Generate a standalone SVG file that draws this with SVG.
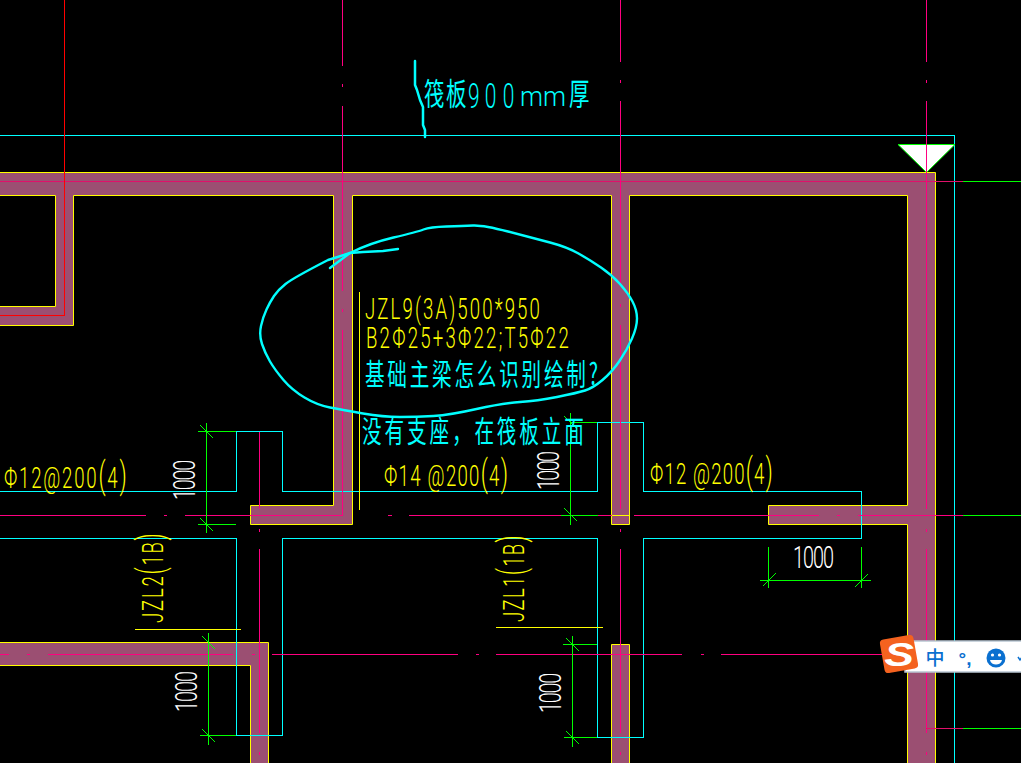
<svg xmlns="http://www.w3.org/2000/svg" width="1021" height="763" viewBox="0 0 1021 763">
<style>
.wall{fill:#9b4f72;stroke:#ffff00;stroke-width:1}
.l{fill:none;stroke-width:1;shape-rendering:crispEdges}
.cy{stroke:#00ffff}.mg{stroke:#ff0080}.rd{stroke:#ff0000}.gr{stroke:#00ff00}.yl{stroke:#ffff00}.cr{stroke:#e0106a}
.tk{fill:none;stroke:#00ff00;stroke-width:1}
.pen{fill:none;stroke:#00ffff;stroke-linecap:round;stroke-linejoin:round}
text{font-family:"Roboto","Liberation Sans",sans-serif;font-weight:300}
.ty{fill:#ffff00;font-size:30px}.tw{fill:#ffffff;font-size:32px}
.tc{fill:#00ffff;font-family:"Noto Sans CJK SC","Noto Sans",sans-serif;font-weight:400}
.tc2{fill:#00ffff}
.p{font-size:36px}
</style>
<rect width="1021" height="763" fill="#000000"/>
<g id="walls">
<path class="wall" d="M-2 172.5H935.5V765H907.5V524.5H768.5V505.5H907.5V195.5H629.5V524.5H611.5V195.5H352.5V524.5H250.5V505.5H333.5V195.5H73.5V325.5H-2V306.5H55.5V195.5H-2Z"/>
<path class="wall" d="M-2 642.5H268.5V765H250.5V665.5H-2Z"/>
<path class="wall" d="M611.5 644.5H629.5V765H611.5Z"/>
<path class="l yl" d="M612 515.5H629"/>
</g>
<g id="beam-outlines">
<path class="l cy" d="M0 135.5H954.5V763"/>
<path class="l cy" d="M0 491.5H236.5V431.5H282.5V491.5H597.5V422.5H643.5V491.5H861.5V538.5H643.5V737.5H597.5V538.5H282.5V735.5H236.5V538.5H0"/>
</g>
<g id="axes">
<path class="l cr" d="M0 181.5H963"/><path class="l gr" d="M963 181.5H1021"/>
<path class="l rd" d="M64.5 0V315.5H0"/>
<path class="l mg" d="M342.5 0V66M342.5 84V87M342.5 106V291M342.5 309V312M342.5 330V515.5"/>
<path class="l mg" d="M620.5 0V62M620.5 80V83M620.5 101V285M620.5 304V307M620.5 325V509M620.5 529V532M620.5 549V733M620.5 752V755"/>
<path class="l mg" d="M926.5 0V62M926.5 80V83M926.5 101V509M926.5 529V532M926.5 549V733M926.5 752V755"/>
<path class="l mg" d="M259.5 432V509M259.5 529V532M259.5 549V733M259.5 752V755"/>
<path class="l mg" d="M0 515.5H146M164 515.5H167M185 515.5H343M388 515.5H392M409 515.5H612M634 515.5H819M837 515.5H840M858 515.5H963"/>
<path class="l gr" d="M963 515.5H1021"/>
<path class="l mg" d="M0 654.5H9M27 654.5H30M48 654.5H233M252 654.5H255M272 654.5H458M476 654.5H479M496 654.5H682M701 654.5H704M721 654.5H925"/>
<path class="l cr" d="M926 728.5H963"/><path class="l gr" d="M963 728.5H1021"/>
</g>
<g id="leaders">
<path class="l yl" d="M359.5 292V510M135 629.5H241M496 627.5H603"/>
</g>
<g id="dimensions">
<path class="l gr" d="M206.5 423V533M198 431.5H236M198 524.5H236"/>
<path class="tk" d="M200 425L213 438M200 518L213 531"/>
<path class="l gr" d="M208.5 633V745M200 735.5H236"/>
<path class="tk" d="M202 636L215 649M202 729L215 742"/>
<path class="l gr" d="M570.5 413V525M561 515.5H598M570 422.5H597"/>
<path class="tk" d="M564 416L577 429M564 508L577 521"/>
<path class="l gr" d="M572.5 636V747M563 644.5H597M564 737.5H597"/>
<path class="tk" d="M566 638L579 651M566 731L579 744"/>
<path class="l gr" d="M760 580.5H871M768.5 547V588M861.5 547V588"/>
<path class="tk" d="M763 586L776 573M855 587L868 574"/>
</g>
<g id="level-mark">
<path d="M898 144.5H955L926.5 172.5Z" fill="#ffffff" stroke="#00ff00" stroke-width="1"/>
<path class="l mg" d="M926.5 135V173"/>
</g>
<g id="cad-text">
<text class="ty" transform="translate(365,319) scale(.62,1)" textLength="282" lengthAdjust="spacing">JZL9(3A)500*950</text>
<text class="ty" transform="translate(366,348) scale(.62,1)" textLength="327" lengthAdjust="spacing">B2Φ25+3Φ22;T5Φ22</text>
<text class="ty" transform="translate(4,488) scale(.62,1)" textLength="198" lengthAdjust="spacing">Φ12@200<tspan class="p">(</tspan>4<tspan class="p">)</tspan></text>
<text class="ty" transform="translate(384,486) scale(.62,1)" textLength="200" lengthAdjust="spacing">Φ14 @200<tspan class="p">(</tspan>4<tspan class="p">)</tspan></text>
<text class="ty" transform="translate(650,484) scale(.62,1)" textLength="198" lengthAdjust="spacing">Φ12 @200<tspan class="p">(</tspan>4<tspan class="p">)</tspan></text>
<text class="ty" transform="translate(163,623) rotate(-90) scale(.62,1)" textLength="145" lengthAdjust="spacing">JZL2<tspan class="p">(</tspan>1B<tspan class="p">)</tspan></text>
<text class="ty" transform="translate(524,622) rotate(-90) scale(.62,1)" textLength="140" lengthAdjust="spacing">JZL1<tspan class="p">(</tspan>1B<tspan class="p">)</tspan></text>
<text class="tw" transform="translate(195,500) rotate(-90) scale(.62,1)" textLength="65" lengthAdjust="spacing">1000</text>
<text class="tw" transform="translate(197,712) rotate(-90) scale(.62,1)" textLength="66" lengthAdjust="spacing">1000</text>
<text class="tw" transform="translate(559,490) rotate(-90) scale(.62,1)" textLength="63" lengthAdjust="spacing">1000</text>
<text class="tw" transform="translate(561,713) rotate(-90) scale(.62,1)" textLength="65" lengthAdjust="spacing">1000</text>
<text class="tw" transform="translate(793,568) scale(.62,1)" textLength="66" lengthAdjust="spacing">1000</text>
</g>
<g id="annotations">
<text class="tc" transform="translate(365,385) scale(.85,1.3)" font-size="23" textLength="274" lengthAdjust="spacing">基础主梁怎么识别绘制?</text>
<text class="tc" transform="translate(362,442) scale(.85,1.3)" font-size="23" textLength="261" lengthAdjust="spacing">没有支座，在筏板立面</text>
<text class="tc" transform="translate(424,105) scale(.85,1.3)" font-size="24" textLength="50" lengthAdjust="spacing">筏板</text>
<text class="tc2" transform="translate(468,108) scale(.6,1)" font-size="35" x="0 28 58">900</text>
<text class="tc2" x="520" y="106" font-size="27" textLength="46" lengthAdjust="spacingAndGlyphs">mm</text>
<text class="tc" transform="translate(569,105) scale(.85,1.3)" font-size="24">厚</text>
<path class="pen" stroke-width="2.5" d="M415 61V85L417 90L420 100L423 107V125L425 130V137"/>
<path class="pen" stroke-width="2.4" d="M398 249L383 251L363 252L350 253L330 268"/>
<path class="pen" stroke-width="2.4" d="M350 253L328 260Q293 278 285.5 284Q278 290 274 296Q270 302 266.5 309.5Q263 317 261 326Q259 335 262 344Q265 353 270 361.5Q275 370 283.5 380Q292 390 304.5 397.5Q317 405 330 407.5Q343 410 363 413.5Q383 417 400 417Q417 417 433.5 416Q450 415 476.5 409Q503 403 520 402Q537 401 557 397Q577 393 585 390.5Q593 388 602.5 380Q612 372 619.5 361Q627 350 632 338.5Q637 327 637 318.5Q637 310 632.5 301.5Q628 293 620 284Q612 275 601 267.5Q590 260 578.5 253.5Q567 247 550 242.5Q533 238 508 231.5Q483 225 473 225.5Q463 226 446.5 226.5Q430 227 423.5 229.5Q417 232 393.5 237.5Q370 243 350 253"/>
</g>
<g id="ime-bar">
<rect x="905" y="641" width="118" height="31" fill="#ffffff" stroke="#b9c6d2" stroke-width="1.5"/>
<rect x="882" y="637" width="34" height="34" rx="4" fill="#f4621f" transform="rotate(-10 899 654)"/>
<text transform="translate(899,666) scale(1.35,1)" font-size="33" text-anchor="middle" style="font-family:'Liberation Sans',sans-serif;font-weight:700;font-style:italic" fill="#ffffff">S</text>
<text x="935" y="665" font-size="19" text-anchor="middle" style="font-family:'Noto Sans CJK SC',sans-serif;font-weight:500" fill="#0a70d0">中</text>
<text x="965" y="665" font-size="19" text-anchor="middle" style="font-family:'Liberation Sans',sans-serif;font-weight:700" fill="#0a70d0">°,</text>
<circle cx="996" cy="658" r="9.5" fill="#0a70d0"/>
<circle cx="992.5" cy="655" r="1.6" fill="#ffffff"/><circle cx="999.5" cy="655" r="1.6" fill="#ffffff"/>
<path d="M990 660H1002C1001 666 991 666 990 660Z" fill="#ffffff"/>
<path d="M1018 657L1020 660L1022 657" fill="none" stroke="#0a70d0" stroke-width="1.5"/>
</g>
</svg>
